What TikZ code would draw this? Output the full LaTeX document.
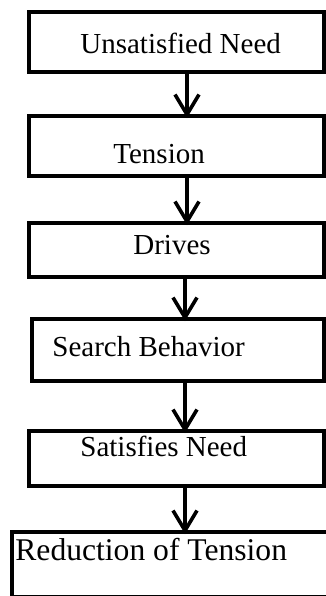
\documentclass[tikz,border=0pt]{standalone}
\usepackage{fontspec}
\setmainfont{Liberation Serif}
\usetikzlibrary{arrows.meta}

\begin{document}
\begin{tikzpicture}[x=0.5pt,y=-0.5pt]

\tikzset{box/.style = {shape=rectangle,draw,line width=2pt,inner sep=0pt}}
\tikzset{lbl/.style = {inner sep=0pt,anchor=base west,font=\fontsize{14.5}{17}\selectfont}}
\tikzset{edge/.style = {line width=1.8pt,-{Straight Barb[length=10pt,width=12pt,line width=1.8pt]},shorten >=-2pt}}
\useasboundingbox (0,0) rectangle (326,596);
%boxes
\node[box, minimum width=147.5pt, minimum height=29.75pt] (need) at (176.5,41.75) {};
\node[box, minimum width=147.5pt, minimum height=29.75pt] (tension) at (176.5,145.75) {};
\node[box, minimum width=147.5pt, minimum height=27pt] (drives) at (176.5,250) {};
\node[box, minimum width=146pt, minimum height=30.75pt] (search) at (178,349.75) {};
\node[box, minimum width=147.5pt, minimum height=27.5pt] (satisfies) at (176.5,458.5) {};
\node[box, minimum width=161.5pt, minimum height=32.5pt] (reduction) at (173.5,564.5) {};
%texts
\node[lbl] (tneed) at (80,53) {Unsatisfied Need};
\node[lbl] (ttension) at (113,163.3) {Tension};
\node[lbl] (tdrives) at (133,254) {Drives};
\node[lbl] (tsearch) at (52,356) {Search Behavior};
\node[lbl] (tsatisfies) at (80,456) {Satisfies Need};
\node[lbl, font=\fontsize{15.8}{18}\selectfont] (treduction) at (15,560.7) {Reduction of Tension};
%arrows
\draw[edge] ([xshift=5.25pt]need.south) -- ([xshift=5.25pt]need.south |- tension.north);
\draw[edge] ([xshift=5.25pt]tension.south) -- ([xshift=5.25pt]tension.south |- drives.north);
\draw[edge] ([xshift=4.25pt]drives.south) -- ([xshift=4.25pt]drives.south |- search.north);
\draw[edge] ([xshift=3.5pt]search.south) -- ([xshift=3.5pt]search.south |- satisfies.north);
\draw[edge] ([xshift=4.25pt]satisfies.south) -- ([xshift=4.25pt]satisfies.south |- reduction.north);

\end{tikzpicture}
\end{document}
